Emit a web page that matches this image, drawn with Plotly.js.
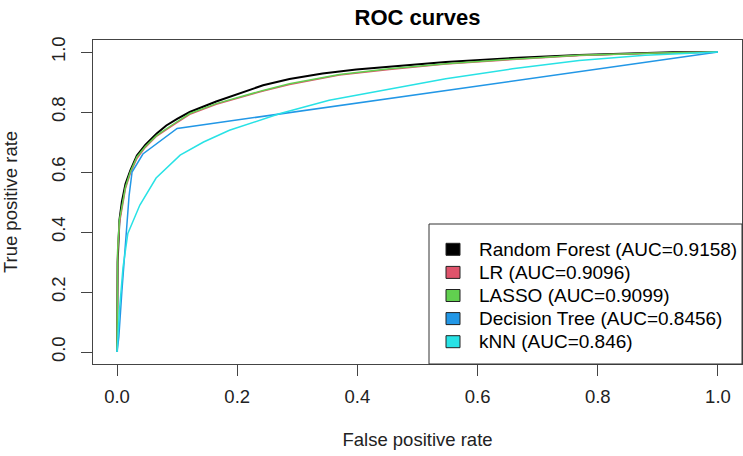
<!DOCTYPE html>
<html>
<head>
<meta charset="utf-8">
<script src="https://cdn.plot.ly/plotly-3.0.1.min.js"></script>
<style>
html,body{margin:0;padding:0;background:#fff;}
#chart{width:743px;height:456px;}
</style>
</head>
<body>
<div id="chart"></div>
<script>
// ---- data ----
const seriesNames = ["Random Forest (AUC=0.9158)", "LR (AUC=0.9096)", "LASSO (AUC=0.9099)", "Decision Tree (AUC=0.8456)", "kNN (AUC=0.846)"];

const fprRF = [0, 0.000, 0.001, 0.004, 0.008, 0.014, 0.022, 0.033, 0.047, 0.066, 0.082, 0.100, 0.121, 0.165, 0.204, 0.243, 0.287, 0.342, 0.398, 0.453, 0.547, 0.658, 0.769, 0.924, 1.0];
const tprRF = [0, 0.280, 0.300, 0.440, 0.500, 0.560, 0.605, 0.655, 0.690, 0.728, 0.755, 0.777, 0.800, 0.835, 0.862, 0.889, 0.910, 0.928, 0.942, 0.952, 0.967, 0.980, 0.990, 0.999, 1.0];

const fprLR = [0, 0.000, 0.001, 0.004, 0.010, 0.014, 0.022, 0.033, 0.047, 0.066, 0.094, 0.121, 0.165, 0.204, 0.243, 0.287, 0.370, 0.453, 0.547, 0.658, 0.769, 0.900, 1.0];
const tprLR = [0, 0.170, 0.330, 0.430, 0.500, 0.545, 0.595, 0.645, 0.682, 0.720, 0.757, 0.792, 0.826, 0.848, 0.870, 0.892, 0.923, 0.942, 0.960, 0.975, 0.988, 0.997, 1.0];

const fprLASSO = [0, 0.000, 0.001, 0.004, 0.010, 0.014, 0.022, 0.033, 0.047, 0.066, 0.094, 0.121, 0.165, 0.204, 0.243, 0.287, 0.370, 0.453, 0.547, 0.658, 0.769, 0.900, 1.0];
const tprLASSO = [0, 0.170, 0.340, 0.440, 0.505, 0.550, 0.600, 0.650, 0.685, 0.722, 0.760, 0.795, 0.828, 0.850, 0.872, 0.894, 0.925, 0.944, 0.961, 0.976, 0.989, 0.997, 1.0];

const fprDT = [0, 0.003, 0.008, 0.014, 0.017, 0.020, 0.025, 0.043, 0.100, 1.0];
const tprDT = [0, 0.050, 0.200, 0.370, 0.450, 0.520, 0.600, 0.660, 0.745, 1.0];

const fprKNN = [0, 0.004, 0.010, 0.018, 0.038, 0.065, 0.105, 0.144, 0.187, 0.270, 0.353, 0.453, 0.547, 0.658, 0.769, 0.879, 1.0];
const tprKNN = [0, 0.139, 0.283, 0.395, 0.490, 0.580, 0.656, 0.700, 0.739, 0.794, 0.839, 0.877, 0.911, 0.944, 0.972, 0.989, 1.0];

const tickVals = [0, 0.2, 0.4, 0.6, 0.8, 1.0];
const tickText = ["0.0", "0.2", "0.4", "0.6", "0.8", "1.0"];

const colors = ["#000000", "#DF536B", "#61D04F", "#2297E6", "#28E2E5"];
const widths = [2, 1.5, 1.5, 1.5, 1.5];

const xs = [fprRF, fprLR, fprLASSO, fprDT, fprKNN];
const ys = [tprRF, tprLR, tprLASSO, tprDT, tprKNN];

const FONT = "Liberation Sans, Arial, sans-serif";

const traces = [];
for (let i = 0; i < xs.length; i++) {
  traces.push({
    x: xs[i], y: ys[i], type: "scatter", mode: "lines",
    name: seriesNames[i],
    line: {color: colors[i], width: widths[i]},
    showlegend: false, hoverinfo: "skip"
  });
}

// ---- R-style legend box (bottom-right), built as shapes + annotations ----
const W = 743, H = 456;
const M = {l: 93, r: 1, t: 40, b: 92};
const pw = W - M.l - M.r, ph = H - M.t - M.b;
const px2x = p => (p - M.l) / pw;          // pixel -> paper x
const py2y = p => (H - M.b - p) / ph;      // pixel -> paper y

const shapes = [{
  type: "rect", xref: "paper", yref: "paper",
  x0: px2x(429), x1: 1, y0: 0, y1: py2y(224),
  line: {color: "#333", width: 1}, fillcolor: "#fff", layer: "above"
}];
const annotations = [];
const rowY0 = 249.3, rowGap = 23.1;
for (let i = 0; i < seriesNames.length; i++) {
  const cy = rowY0 + i * rowGap;
  shapes.push({
    type: "rect", xref: "paper", yref: "paper",
    x0: px2x(446), x1: px2x(460), y0: py2y(cy + 6), y1: py2y(cy - 6),
    line: {color: "#222", width: 1}, fillcolor: colors[i], layer: "above"
  });
  annotations.push({
    xref: "paper", yref: "paper", x: px2x(477), y: py2y(cy),
    xanchor: "left", yanchor: "middle", showarrow: false,
    text: seriesNames[i],
    font: {family: FONT, size: 19, color: "#000"}
  });
}

const axisCommon = {
  range: [-0.04, 1.04],
  tickmode: "array", tickvals: tickVals, ticktext: tickText,
  showgrid: false, zeroline: false,
  showline: true, linecolor: "#444", linewidth: 1, mirror: true,
  ticks: "outside", ticklen: 11, tickcolor: "#444", tickwidth: 1,
  tickfont: {family: FONT, size: 18.5, color: "#222"}
};

const layout = {
  width: W, height: H,
  margin: M,
  paper_bgcolor: "#fff", plot_bgcolor: "#fff",
  title: {
    text: "<b>ROC curves</b>",
    font: {family: FONT, size: 22, color: "#000"},
    x: 0.5, xref: "paper", xanchor: "center",
    y: 1 - 17/456, yref: "container", yanchor: "middle"
  },
  xaxis: Object.assign({}, axisCommon, {
    ticklabelstandoff: 5,
    title: {text: "False positive rate", font: {family: FONT, size: 18.5, color: "#222"}, standoff: 26}
  }),
  yaxis: Object.assign({}, axisCommon, {
    tickangle: -90,
    ticklabelstandoff: 9,
    title: {text: "True positive rate", font: {family: FONT, size: 18.5, color: "#222"}, standoff: 26}
  }),
  shapes: shapes,
  annotations: annotations,
  showlegend: false
};

Plotly.newPlot("chart", traces, layout, {displayModeBar: false, staticPlot: true});
</script>
</body>
</html>
